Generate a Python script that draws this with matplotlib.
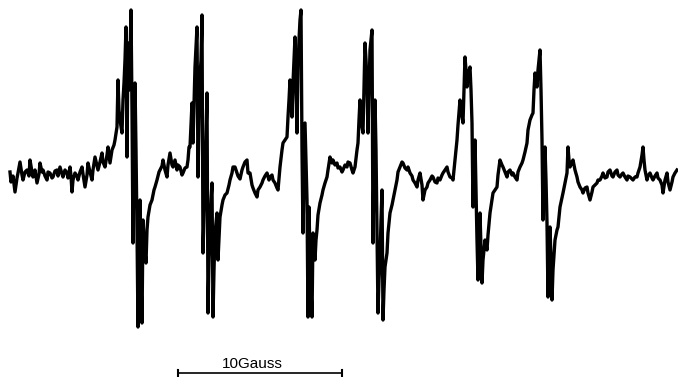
import numpy as np
import matplotlib
matplotlib.use("Agg")
import matplotlib.pyplot as plt

# EPR trace: field position (chart units) and pen position
# (chart units measured downward from the top edge). Baseline sits at ~175.
field = [
    10, 11, 13, 15, 17, 18, 20, 22, 23, 25, 27, 29, 30, 32, 33, 35, 37, 39, 40, 42,
    43, 45, 47, 48, 50, 52, 53, 55, 57, 58, 60, 62, 63, 65, 67, 68, 70, 71, 72, 73,
    75, 77, 78, 80, 82, 83, 85, 87, 88, 90, 92, 93, 95, 97, 98, 100, 102, 103, 105, 107,
    108, 110, 112, 114, 115, 117,
    # line 1
    118, 119, 120, 122, 123, 124, 125, 126, 127, 128, 129, 130, 131, 132, 133, 134, 135, 136,
    137, 138, 139, 140, 141, 142, 143, 144, 146, 147, 148, 150, 152, 154, 155, 157, 159, 160,
    162, 163, 165, 167, 168, 170, 172, 173, 175, 177, 178, 180, 182, 183, 185, 187, 188, 189,
    # line 2
    190, 192, 193, 195, 197, 198, 199, 200, 201, 202, 203, 205, 207, 208, 209, 210, 211, 212,
    213, 214, 215, 217, 218, 220, 222, 223, 225, 227, 229, 230, 232, 233, 235, 237, 238, 240,
    242, 243, 245, 247, 248, 250, 252, 253, 255, 257, 258, 260, 262, 263, 265, 267, 269, 270,
    272, 273, 275, 277, 278, 280, 282, 283, 285, 287,
    # line 3
    288, 289, 290, 291, 292, 293, 294, 295, 296, 297, 298, 299, 300, 301, 302, 303, 304, 305,
    306, 307, 308, 309, 310, 311, 312, 313, 315, 316, 317, 318, 320, 322, 323, 325, 327, 328,
    330, 332, 333, 335, 337, 338, 340, 342, 343, 345, 347, 348, 350, 352, 353, 355, 357, 358,
    # line 4
    359, 360, 361, 362, 363, 364, 365, 366, 367, 368, 369, 370, 371, 372, 373, 374, 375, 376,
    377, 378, 379, 380, 381, 382, 383, 384, 385, 387, 388, 390, 392, 393, 395, 397, 398, 400,
    402, 403, 405, 407, 408, 410, 412, 413, 415, 417, 418, 420, 422, 423, 425, 427, 428, 430,
    432, 433, 435, 437, 438, 440, 442, 443, 445, 447, 448, 450, 452, 453, 455, 457,
    # line 5
    458, 460, 461, 463, 464, 465, 466, 467, 468, 470, 471, 472, 473, 474, 475, 476, 477, 478,
    479, 480, 481, 482, 483, 485, 487, 488, 490, 492, 493, 495, 497, 498, 500, 502, 503, 505,
    507, 508, 510, 512, 513, 515, 517, 518, 520, 522, 523, 525, 527, 528, 530, 532, 533,
    # line 6 and tail
    534, 535, 536, 537, 538, 539, 540, 541, 542, 543, 544, 545, 546, 547, 548, 549, 550, 551,
    552, 553, 555, 557, 558, 560, 562, 563, 565, 567, 568, 569, 570, 572, 573, 575, 577, 578,
    580, 582, 583, 585, 587, 588, 590, 592, 593, 595, 597, 598, 600, 602, 603, 605, 607, 608,
    610, 612, 613, 615, 617, 618, 620, 622, 623, 625, 627, 628, 630, 632, 633, 635, 637, 638,
    640, 642, 643, 644, 645, 647, 648, 650, 652, 653, 655, 657, 658, 660, 662, 663, 665, 667,
    668, 670, 672, 673, 675, 677,
]

pen = [
    172, 182, 176, 192, 178, 173, 162, 175, 180, 172, 170, 176, 160, 172, 177, 170, 183, 174, 163, 172,
    170, 176, 180, 172, 173, 178, 177, 171, 170, 176, 167, 174, 177, 170, 173, 178, 167, 176, 192, 180,
    173, 176, 180, 172, 167, 174, 187, 175, 163, 172, 180, 170, 157, 166, 170, 162, 153, 162, 167, 155,
    147, 163, 150, 145, 140, 127,
    80, 110, 120, 133, 100, 83, 60, 27, 157, 43, 90, 60, 10, 110, 243, 150, 83, 150,
    230, 327, 260, 200, 280, 323, 220, 240, 263, 230, 217, 205, 200, 190, 187, 180, 172, 170,
    166, 160, 170, 177, 165, 153, 165, 167, 160, 170, 165, 167, 175, 173, 168, 167, 160, 147,
    147, 103, 143, 67, 27, 177, 120, 77, 60, 15, 253, 180, 93, 313, 260, 230, 200, 183,
    317, 270, 233, 213, 260, 217, 205, 200, 195, 193, 185, 180, 173, 167, 167, 173, 176, 179,
    170, 167, 162, 160, 173, 173, 185, 188, 193, 197, 190, 187, 183, 180, 176, 173, 180, 177,
    175, 180, 183, 188, 190, 167, 150, 143, 140, 137,
    117, 100, 80, 100, 117, 83, 60, 37, 90, 133, 67, 40, 20, 10, 150, 233, 180, 123,
    160, 200, 317, 207, 260, 290, 317, 233, 260, 240, 230, 215, 203, 195, 190, 183, 177, 170,
    157, 163, 160, 165, 163, 168, 167, 172, 170, 165, 167, 162, 163, 170, 173, 167, 150, 143,
    120, 100, 115, 127, 133, 90, 43, 60, 83, 133, 90, 50, 40, 30, 243, 160, 100, 150,
    233, 313, 280, 260, 220, 190, 320, 290, 267, 253, 233, 213, 205, 200, 190, 180, 172, 167,
    162, 163, 168, 170, 167, 173, 176, 180, 183, 187, 180, 173, 185, 200, 190, 187, 183, 180,
    176, 177, 182, 183, 178, 180, 175, 173, 170, 167, 172, 177, 178, 180, 160, 140,
    125, 100, 110, 123, 90, 57, 70, 87, 75, 67, 90, 123, 207, 170, 140, 190, 240, 280,
    250, 213, 250, 283, 260, 240, 250, 235, 213, 200, 193, 190, 187, 175, 160, 165, 167, 172,
    177, 172, 170, 175, 173, 177, 180, 172, 167, 163, 160, 152, 143, 130, 120, 115, 113,
    90, 73, 80, 87, 70, 60, 50, 90, 140, 220, 180, 147, 180, 223, 297, 260, 227, 260,
    300, 270, 240, 230, 227, 207, 198, 193, 183, 173, 147, 160, 167, 162, 160, 170, 177, 182,
    187, 190, 193, 188, 187, 193, 200, 192, 187, 185, 183, 180, 180, 176, 173, 178, 177, 172,
    170, 176, 177, 172, 170, 175, 177, 174, 173, 177, 180, 176, 177, 179, 180, 177, 177, 173,
    167, 155, 147, 160, 170, 180, 176, 173, 178, 180, 176, 173, 178, 180, 185, 193, 180, 173,
    182, 190, 182, 177, 173, 170,
]

BASELINE = 175
signal = BASELINE - np.array(pen, dtype=float)

# scale bar: 10 gauss on the chart
bar_start = 178
bar_gauss = 10
units_per_gauss = 16.4
bar_level = BASELINE - 373

fig = plt.figure(figsize=(6.78, 3.77), dpi=100)
ax = fig.add_axes([0, 0, 1, 1])
ax.plot(field, signal, color="black", lw=2.4, solid_joinstyle="round")

bar_end = bar_start + bar_gauss * units_per_gauss
ax.plot([bar_start, bar_end], [bar_level, bar_level], color="black", lw=1.2)
for xe in (bar_start, bar_end):
    ax.plot([xe, xe], [bar_level - 3, bar_level + 3], color="black", lw=1.5)
ax.text((bar_start + bar_end) / 2 - 8, bar_level + 2, "10Gauss", ha="center", va="bottom",
        fontsize=11, family="Liberation Sans")

ax.set_xlim(0, 678)
ax.set_ylim(BASELINE - 377, BASELINE)
ax.axis("off")

plt.savefig("out.png", dpi=100)
